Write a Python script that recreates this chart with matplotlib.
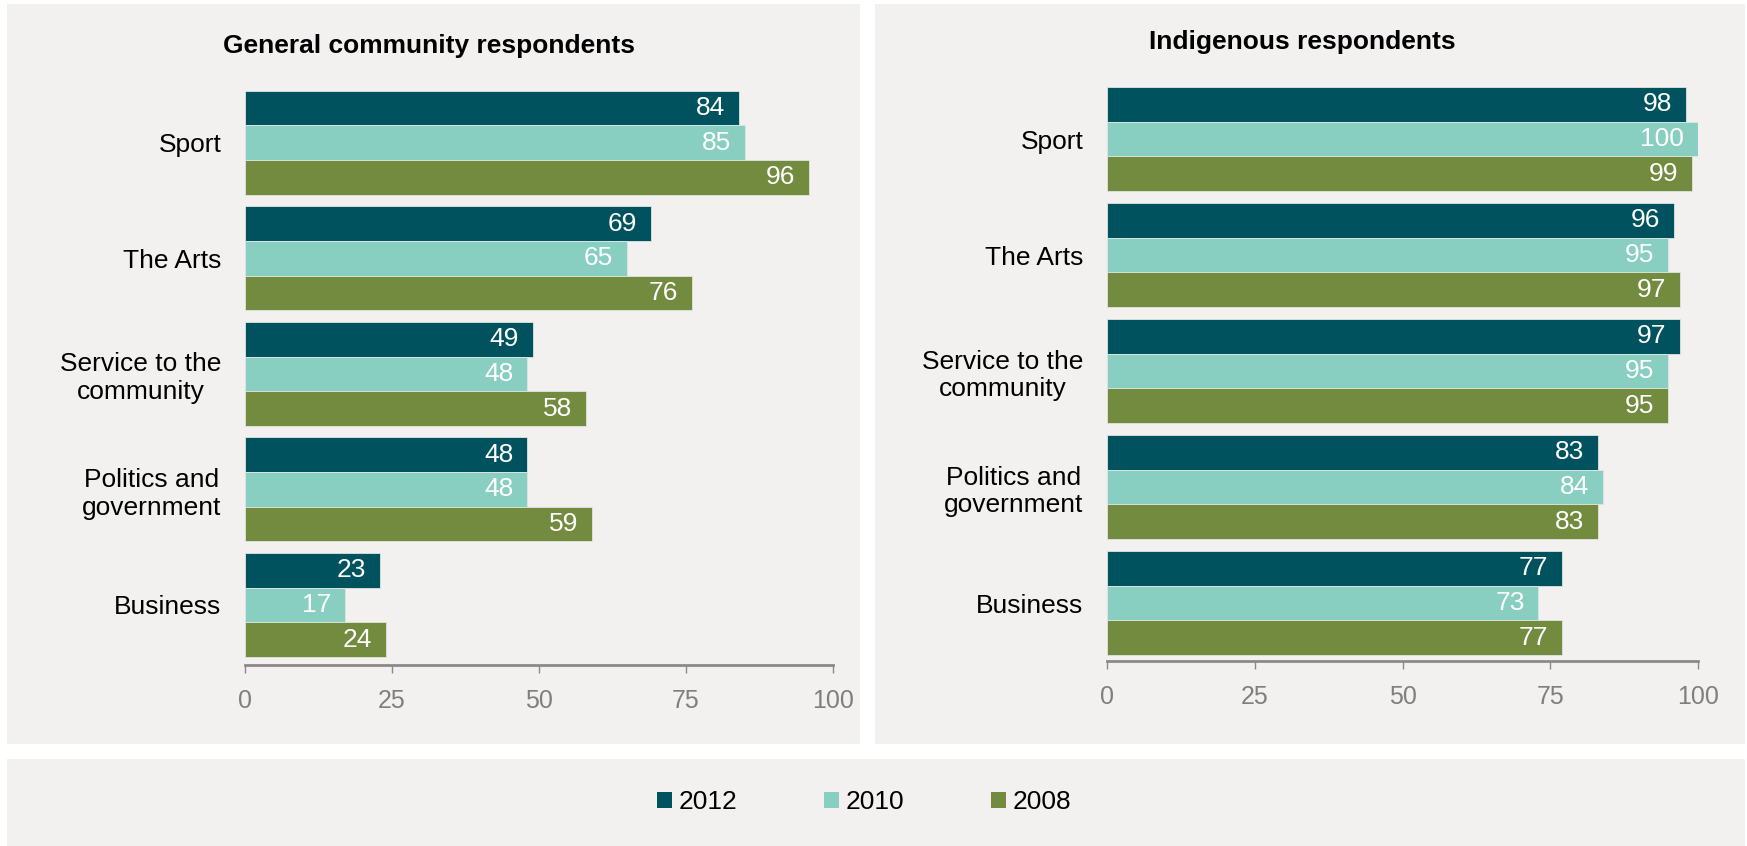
import matplotlib
matplotlib.use("Agg")
import matplotlib.pyplot as plt
from matplotlib.patches import Rectangle, Patch

plt.rcParams['font.family'] = ['Liberation Sans', 'DejaVu Sans']

categories = ["Sport", "The Arts", "Service to the\ncommunity", "Politics and\ngovernment", "Business"]
years = ["2012", "2010", "2008"]
colors = ["#00525e", "#88cfc1", "#728b3e"]

general_2012 = [84, 69, 49, 48, 23]
general_2010 = [85, 65, 48, 48, 17]
general_2008 = [96, 76, 58, 59, 24]

indig_2012 = [98, 96, 97, 83, 77]
indig_2010 = [100, 95, 95, 84, 73]
indig_2008 = [99, 97, 95, 83, 77]

panel_bg = "#f2f1ef"
fs = 19

fig = plt.figure(figsize=(17.47, 8.46), dpi=100)
fig.patch.set_facecolor("white")

# grey panels behind the charts and legend
for (x, y, w, h) in [(7, 102, 853, 740), (875, 102, 870, 740), (7, 0, 1738, 87)]:
    fig.add_artist(Rectangle((x / 1747, y / 846), w / 1747, h / 846,
                             transform=fig.transFigure, facecolor=panel_bg,
                             edgecolor="none", zorder=-10))

ax1 = fig.add_axes([245 / 1747, 1 - 665 / 846, 588 / 1747, 580 / 846])
ax2 = fig.add_axes([1107 / 1747, 1 - 661 / 846, 591 / 1747, 580 / 846])


def draw(ax, series, ylim_bottom):
    h = 0.3
    for j, vals in enumerate(series):
        ypos = [i - h + j * h for i in range(len(categories))]
        bars = ax.barh(ypos, vals, height=h, color=colors[j],
                       edgecolor="#dfe6e2", linewidth=0.6)
        for b, v in zip(bars, vals):
            ax.annotate(str(v), (b.get_width(), b.get_y() + h / 2),
                        xytext=(-10, 0), textcoords="offset points",
                        ha="right", va="center", color="white", fontsize=fs)
    ax.set_ylim(ylim_bottom, -0.5)
    ax.set_xlim(0, 100)
    ax.set_facecolor("none")
    ax.set_yticks(range(len(categories)))
    ax.set_yticklabels(categories, fontsize=fs, multialignment="center")
    ax.tick_params(axis="y", length=0, pad=17)
    ax.set_xticks([0, 25, 50, 75, 100])
    ax.tick_params(axis="x", direction="out", length=6, width=1, color="#8a8a8a",
                   labelcolor="#7f7f7f", labelsize=fs - 1, pad=11)
    for s in ["top", "right", "left"]:
        ax.spines[s].set_visible(False)
    ax.spines["bottom"].set_color("#8a8a8a")
    ax.spines["bottom"].set_linewidth(2)


draw(ax1, [general_2012, general_2010, general_2008], 4.52)
draw(ax2, [indig_2012, indig_2010, indig_2008], 4.5)

fig.text(429 / 1747, 1 - 46 / 846, "General community respondents",
         ha="center", va="center", fontsize=fs, fontweight="bold")
fig.text(1302 / 1747, 1 - 42 / 846, "Indigenous respondents",
         ha="center", va="center", fontsize=fs, fontweight="bold")

handles = [Patch(facecolor=c, edgecolor="none") for c in colors]
fig.legend(handles, years, loc="center", bbox_to_anchor=(864 / 1747, 1 - 802 / 846),
           ncol=3, frameon=False, fontsize=fs, handlelength=0.55, handleheight=0.55,
           handletextpad=0.25, columnspacing=3.3)

fig.savefig("out.png", dpi=100, facecolor=fig.get_facecolor())
